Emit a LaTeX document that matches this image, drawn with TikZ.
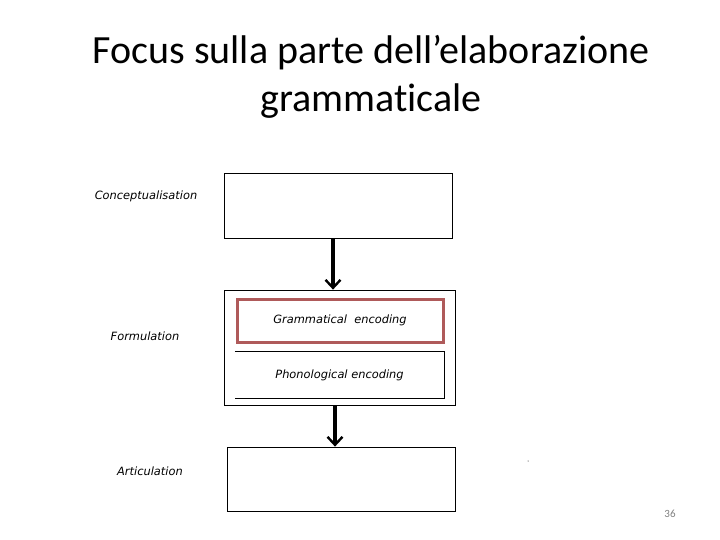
\documentclass[tikz,border=0pt]{standalone}
\usepackage{fontspec}
\setmainfont{Carlito}[Ligatures=NoCommon]
\newfontfamily\diafont{DejaVu Sans}
\usetikzlibrary{arrows.meta}

\begin{document}
\begin{tikzpicture}[x=1pt,y=-1pt,
        stage/.style={draw, line width=0.8pt, rectangle, inner sep=0pt},
        lbl/.style={font=\diafont\itshape\fontsize{11.4}{13}\selectfont},
        arr/.style={line width=3.2pt, -{Straight Barb[length=8pt,width=15pt,line width=2.4pt]}}]
        \useasboundingbox (0,0) rectangle (720,540);
        \node[font=\fontsize{40}{48}\selectfont, align=center] (title) at (371,77) {Focus sulla parte dell’elaborazione\\grammaticale};
        % stages
        \node[stage, minimum width=228pt, minimum height=65pt] (concept) at (338,205.5) {};
        \node[stage, minimum width=231pt, minimum height=115pt] (form) at (339.5,347.5) {};
        \node[stage, draw={rgb,255:red,175;green,90;blue,90}, line width=3pt, minimum width=206pt, minimum height=43pt] (gram) at (340,320.5) {};
        \node[lbl] at (gram) {Grammatical\ \ encoding};
        \node[minimum width=209pt, minimum height=46pt, inner sep=0pt] (phon) at (339.5,375) {};
        \draw[line width=0.8pt] (phon.north west) -- (phon.north east) -- (phon.south east) -- (phon.south west);
        \node[lbl] at (phon) {Phonological encoding};
        \node[stage, minimum width=228pt, minimum height=64pt] (artic) at (341,479) {};
        % labels
        \node[lbl] (conceptlbl) at (146,196) {Conceptualisation};
        \node[lbl] (formlbl) at (145,336) {Formulation};
        \node[lbl] (articlbl) at (150,471) {Articulation};
        % arrows
        \draw[arr] ([xshift=-5pt]concept.south) -- ([xshift=-6.5pt]form.north);
        \draw[arr] ([xshift=-4.5pt]form.south) -- ([xshift=-6pt]artic.north);
        \fill (528,461) circle (0.5pt);
        \node[text=gray, font=\fontsize{11}{13}\selectfont] (page) at (670,514) {36};
    \end{tikzpicture}
\end{document}
